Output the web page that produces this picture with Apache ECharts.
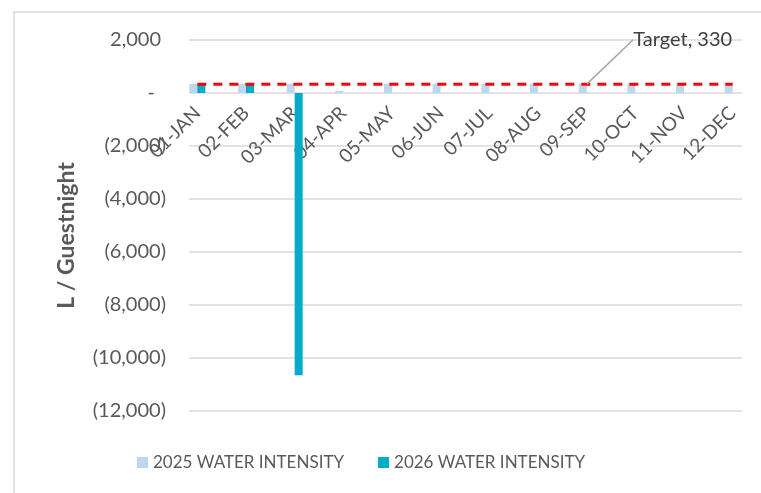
<!DOCTYPE html>
<html>
<head>
<meta charset="utf-8">
<script src="https://cdn.jsdelivr.net/npm/echarts@6/dist/echarts.min.js"></script>
<style>html,body{margin:0;padding:0;background:#fff;}#c{width:761px;height:493px;}</style>
</head>
<body>
<div id="c"></div>
<script>
var categories = ['01-JAN','02-FEB','03-MAR','04-APR','05-MAY','06-JUN','07-JUL','08-AUG','09-SEP','10-OCT','11-NOV','12-DEC'];
var intensity2025 = [350, 350, 350, 80, 350, 350, 345, 345, 345, 345, 345, 345];
var intensity2026 = [340, 340, -10650, null, null, null, null, null, null, null, null, null];
var targetValue = 330;
var targetLine = [330, 330, 330, 330, 330, 330, 330, 330, 330, 330, 330, 330];
var yTicks = { min: -12000, max: 2000, interval: 2000 };

var FONT = 'Lato';
var TXT = '#595959';
var FS = 20;

function fmt(v) {
  var a = Math.abs(v).toLocaleString('en-US');
  if (v === 0) return '{t|-}{z|\u00a0}';
  if (v < 0) return '{t|(' + a + ')}';
  return '{t|' + a + '}{p|\u00a0}';
}

var GRID_TOP = 40, GRID_BOTTOM = 82, H = 493;
var plotH = H - GRID_TOP - GRID_BOTTOM;
// distance from grid bottom to the zero line (category axis sits on zero)
var zeroOffset = -plotH * (0 - yTicks.min) / (yTicks.max - yTicks.min);

var chart = echarts.init(document.getElementById('c'), null, { renderer: 'canvas' });
var targetData = targetLine.map(function (v, i) {
  if (i === 8) {
    return {
      value: v,
      label: { show: true, position: 'top', formatter: 'Target, ' + targetValue,
        fontFamily: FONT, fontSize: FS, color: '#404040' },
      labelLine: { show: true, lineStyle: { color: '#a6a6a6', width: 1.5 } }
    };
  }
  return v;
});

chart.setOption({
  animation: false,
  textStyle: { fontFamily: FONT },
  graphic: [{
    type: 'rect', silent: true, z: -10,
    shape: { x: 14, y: 12, width: 800, height: 600 },
    style: { fill: 'none', stroke: '#d9d9d9', lineWidth: 1.5 }
  }],
  grid: [
    { left: 189, right: 19, top: GRID_TOP, bottom: GRID_BOTTOM, containLabel: false },
    { left: 173, right: 4, top: GRID_TOP, bottom: GRID_BOTTOM, containLabel: false }
  ],
  legend: {
    bottom: 17, left: 132,
    data: ['2025 WATER INTENSITY', '2026 WATER INTENSITY'],
    icon: 'rect', itemWidth: 11, itemHeight: 11, itemGap: 34,
    textStyle: { fontFamily: FONT, fontSize: 17, color: TXT }
  },
  xAxis: [
    { type: 'category', gridIndex: 0, data: categories, show: false },
    { type: 'category', gridIndex: 1, data: categories, position: 'bottom', offset: zeroOffset,
      axisLine: { show: false, onZero: false },
      axisTick: { show: false },
      axisLabel: { rotate: 45, interval: 0, margin: 17, fontFamily: FONT, fontSize: 19, color: TXT },
      splitLine: { show: false } }
  ],
  yAxis: [
    { type: 'value', gridIndex: 0, min: yTicks.min, max: yTicks.max, interval: yTicks.interval,
      axisLine: { show: false }, axisTick: { show: false },
      splitLine: { lineStyle: { color: '#d9d9d9', width: 1.5 } },
      axisLabel: { margin: 23, formatter: fmt,
        rich: {
          t: { fontFamily: FONT, fontSize: FS, color: TXT },
          p: { fontFamily: FONT, fontSize: FS, width: 5 },
          z: { fontFamily: FONT, fontSize: FS, width: 11 }
        } },
      name: 'L / Guestnight', nameLocation: 'middle', nameGap: 111, nameRotate: 90,
      nameTextStyle: { fontFamily: FONT, fontSize: 23, fontWeight: 'bold', color: TXT, padding: [0, 20, 0, 0] }
    },
    { type: 'value', gridIndex: 1, min: yTicks.min, max: yTicks.max, interval: yTicks.interval,
      axisLine: { show: false }, axisTick: { show: false }, axisLabel: { show: false },
      splitLine: { show: false } }
  ],
  series: [
    { name: '2025 WATER INTENSITY', type: 'bar', xAxisIndex: 1, yAxisIndex: 1,
      data: intensity2025, barWidth: 8, barGap: '0%', itemStyle: { color: '#BDD7EE' } },
    { name: '2026 WATER INTENSITY', type: 'bar', xAxisIndex: 1, yAxisIndex: 1,
      data: intensity2026, barWidth: 8, barGap: '0%', itemStyle: { color: '#00ACC8' } },
    { name: 'Target', type: 'line', xAxisIndex: 1, yAxisIndex: 1, data: targetData,
      showSymbol: true, symbol: 'circle', symbolSize: 1, z: 5,
      itemStyle: { color: 'rgba(0,0,0,0)', borderWidth: 0 },
      lineStyle: { color: '#FF0000', width: 3, type: [9, 7] },
      labelLayout: { dx: 96, dy: -29 } }
  ]
});
</script>
</body>
</html>
